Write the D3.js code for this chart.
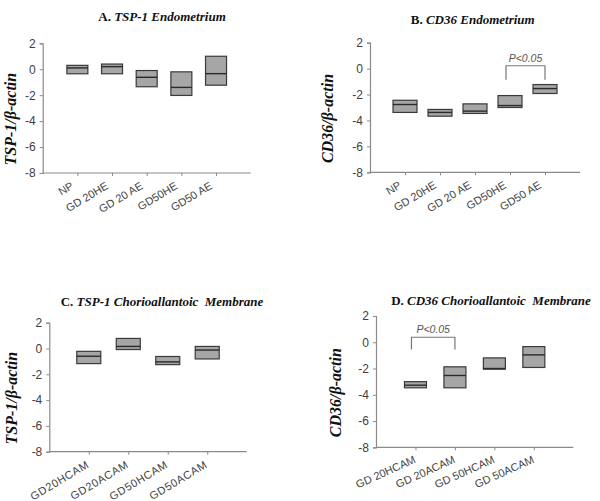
<!DOCTYPE html>
<html>
<head>
<meta charset="utf-8">
<script src="https://cdn.jsdelivr.net/npm/d3@7"></script>
<style>
    body { margin: 0; background: #fff; }
    svg { display: block; }
</style>
</head>
<body>
<svg id="chart" width="600" height="501"></svg>
<script>
// values: box top, median line, box bottom
let catsA = ['NP', 'GD 20HE', 'GD 20 AE', 'GD50HE', 'GD50 AE'];
let topA = [0.3, 0.4, -0.1, -0.2, 1.0];
let medA = [0.1, 0.2, -0.62, -1.4, -0.34];
let lowA = [-0.35, -0.35, -1.35, -2.02, -1.23];

let catsB = ['NP', 'GD 20HE', 'GD 20 AE', 'GD50HE', 'GD50 AE'];
let topB = [-2.44, -3.15, -2.72, -2.08, -1.23];
let medB = [-2.77, -3.38, -3.28, -2.85, -1.54];
let lowB = [-3.38, -3.67, -3.46, -3.0, -1.92];

let catsC = ['GD20HCAM', 'GD20ACAM', 'GD50HCAM', 'GD50ACAM'];
let topC = [-0.22, 0.78, -0.62, 0.16];
let medC = [-0.6, 0.16, -1.04, -0.12];
let lowC = [-1.17, -0.08, -1.25, -0.81];

let catsD = ['GD 20HCAM', 'GD 20ACAM', 'GD 50HCAM', 'GD 50ACAM'];
let topD = [-3.0, -1.87, -1.19, -0.33];
let medD = [-3.27, -2.53, -2.0, -0.96];
let lowD = [-3.47, -3.47, -2.05, -1.92];

let yTicks = [2, 0, -2, -4, -6, -8];

// significance brackets: [from index, to index, bracket level, leg end]
let sigB = [3, 4, 0.22, -0.85];
let sigD = [0, 1, 0.38, -0.55];

const svg = d3.select('#chart');

const panels = [
    {
        cats: catsA, top: topA, med: medA, low: lowA,
        letter: 'A. ', title: 'TSP-1 Endometrium', ylab: 'TSP-1/\u03b2-actin',
        x0: 42.7, x1: 250.7, y0: 43.3, y1: 173, bw: 21,
        tx: 162, ty: 21, lx: 16, angle: -31, shift: -3
    },
    {
        cats: catsB, top: topB, med: medB, low: lowB,
        letter: 'B. ', title: 'CD36 Endometrium', ylab: 'CD36/\u03b2-actin',
        x0: 370, x1: 580, y0: 42.7, y1: 172.3, bw: 24,
        tx: 472.7, ty: 23.5, lx: 333, angle: -31, shift: -3, sig: sigB
    },
    {
        cats: catsC, top: topC, med: medC, low: lowC,
        letter: 'C. ', title: 'TSP-1 Chorioallantoic  Membrane', ylab: 'TSP-1/\u03b2-actin',
        x0: 49.3, x1: 246.7, y0: 322.7, y1: 451.7, bw: 24,
        tx: 162, ty: 306, lx: 17, angle: -31, shift: 1, spacing: 0.6
    },
    {
        cats: catsD, top: topD, med: medD, low: lowD,
        letter: 'D. ', title: 'CD36 Chorioallantoic  Membrane', ylab: 'CD36/\u03b2-actin',
        x0: 376, x1: 573.3, y0: 316, y1: 447.3, bw: 22,
        tx: 491, ty: 305, lx: 341, angle: -24, shift: 1, sig: sigD
    }
];

panels.forEach(drawPanel);

function drawPanel(p) {
    const g = svg.append('g');

    const x = d3.scalePoint()
        .domain(p.cats)
        .range([p.x0, p.x1])
        .padding(1);

    const y = d3.scaleLinear()
        .domain([-8, 2])
        .range([p.y1, p.y0]);

    // y axis
    const yAxis = g.append('g')
        .attr('transform', 'translate(' + p.x0 + ',0)')
        .call(d3.axisLeft(y).tickValues(yTicks).tickSize(3).tickPadding(4)
            .tickFormat(d => String(d)));

    // x axis
    const xAxis = g.append('g')
        .attr('transform', 'translate(0,' + p.y1 + ')')
        .call(d3.axisBottom(x).tickSize(3).tickFormat(''));

    [yAxis, xAxis].forEach(ax => {
        ax.select('.domain').attr('stroke', '#8a8a8a').attr('stroke-width', 1.2);
        ax.selectAll('.tick line').attr('stroke', '#8a8a8a');
    });
    xAxis.select('.domain').attr('d', 'M' + p.x0 + ',0H' + p.x1);

    yAxis.selectAll('.tick text')
        .attr('fill', '#404040')
        .style('font-family', 'Liberation Sans, Arial, sans-serif')
        .style('font-size', '12px');

    // rotated category labels, baseline ends just left of the tick
    g.append('g')
        .selectAll('text')
        .data(p.cats)
        .join('text')
        .attr('transform', d => 'translate(' + (x(d) + p.shift) + ',' + (p.y1 + 15) + ') rotate(' + p.angle + ')')
        .attr('text-anchor', 'end')
        .attr('fill', '#444')
        .style('font-family', 'Liberation Sans, Arial, sans-serif')
        .style('font-size', '11px')
        .style('letter-spacing', (p.spacing || 0) + 'px')
        .text(d => d);

    // boxes
    const idx = d3.range(p.cats.length);
    g.append('g')
        .selectAll('rect')
        .data(idx)
        .join('rect')
        .attr('x', i => x(p.cats[i]) - p.bw / 2)
        .attr('width', p.bw)
        .attr('y', i => y(p.top[i]))
        .attr('height', i => y(p.low[i]) - y(p.top[i]))
        .attr('fill', '#a6a6a6')
        .attr('stroke', '#3a3a3a')
        .attr('stroke-width', 1.2);

    g.append('g')
        .selectAll('line')
        .data(idx)
        .join('line')
        .attr('x1', i => x(p.cats[i]) - p.bw / 2)
        .attr('x2', i => x(p.cats[i]) + p.bw / 2)
        .attr('y1', i => y(p.med[i]))
        .attr('y2', i => y(p.med[i]))
        .attr('stroke', '#2a2a2a')
        .attr('stroke-width', 1.4);

    // significance bracket
    if (p.sig) {
        const xa = x(p.cats[p.sig[0]]) - 4;
        const xb = x(p.cats[p.sig[1]]);
        const yt = y(p.sig[2]);
        const yl = y(p.sig[3]);
        g.append('path')
            .attr('d', 'M' + xa + ',' + yl + 'V' + yt + 'H' + xb + 'V' + yl)
            .attr('fill', 'none')
            .attr('stroke', '#777')
            .attr('stroke-width', 1.2);
        g.append('text')
            .attr('x', (xa + xb) / 2)
            .attr('y', yt - 4)
            .attr('text-anchor', 'middle')
            .attr('fill', '#555')
            .style('font-family', 'Liberation Sans, Arial, sans-serif')
            .style('font-style', 'italic')
            .style('font-size', '10.5px')
            .text('P<0.05');
    }

    // panel title
    const t = g.append('text')
        .attr('x', p.tx)
        .attr('y', p.ty)
        .attr('text-anchor', 'middle')
        .attr('fill', '#111')
        .style('font-family', 'Liberation Serif, Times New Roman, serif')
        .style('font-weight', 'bold')
        .style('font-size', '13px')
        .style('white-space', 'pre');
    t.append('tspan').text(p.letter);
    t.append('tspan').style('font-style', 'italic').text(p.title);

    // y label
    g.append('text')
        .attr('transform', 'translate(' + p.lx + ',' + ((p.y0 + p.y1) / 2 + 11) + ') rotate(-90)')
        .attr('text-anchor', 'middle')
        .attr('fill', '#111')
        .style('font-family', 'Liberation Serif, Times New Roman, serif')
        .style('font-weight', 'bold')
        .style('font-style', 'italic')
        .style('font-size', '16px')
        .text(p.ylab);
}
</script>
</body>
</html>
